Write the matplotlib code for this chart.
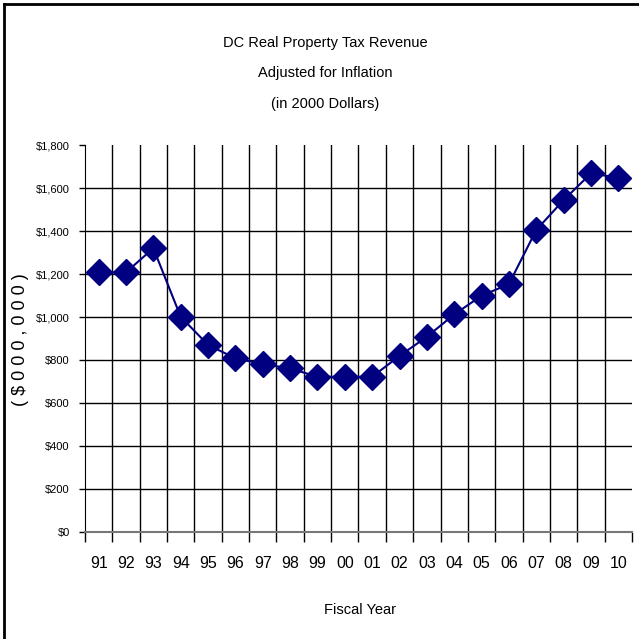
import matplotlib.pyplot as plt
from matplotlib.lines import Line2D
import numpy as np

plt.rcParams['font.family'] = ['Liberation Sans Narrow', 'Liberation Sans', 'DejaVu Sans']

years = ["91", "92", "93", "94", "95", "96", "97", "98", "99", "00",
         "01", "02", "03", "04", "05", "06", "07", "08", "09", "10"]
revenue = [1208, 1208, 1320, 1001, 870, 808, 781, 761, 722, 722,
           722, 819, 908, 1012, 1099, 1153, 1405, 1544, 1668, 1648]
yticks = [0, 200, 400, 600, 800, 1000, 1200, 1400, 1600, 1800]

fig = plt.figure(figsize=(6.39, 6.39), dpi=100)
ax = fig.add_axes([0.133, 0.1675, 0.856, 0.6055])

x = np.arange(len(years))
ax.plot(x, revenue, color="#000080", lw=1.5, marker="D", markersize=13.5,
        markerfacecolor="#000080", markeredgecolor="#000080", zorder=3)

ax.set_xlim(-0.5, len(years) - 0.5)
ax.set_ylim(0, 1800)

# horizontal grid (no line at the top)
for v in yticks[1:-1]:
    ax.axhline(v, color="black", lw=1, zorder=1)
# vertical grid at category boundaries
for b in np.arange(0.5, len(years) - 0.5, 1):
    ax.axvline(b, color="black", lw=1, zorder=1)

for s in ["top", "right"]:
    ax.spines[s].set_visible(False)
ax.spines["left"].set_color("black")
ax.spines["bottom"].set_color("#777777")
ax.spines["bottom"].set_linewidth(1.5)

ax.set_yticks(yticks)
ax.set_yticklabels(["${:,}".format(v) for v in yticks], fontsize=8)
ax.tick_params(axis="y", length=4, width=1, pad=7)

ax.set_xticks(np.arange(-0.5, len(years), 1))
ax.set_xticklabels([])
ax.tick_params(axis="x", which="major", length=7, width=1, color="black")
ax.set_xticks(x, minor=True)
ax.set_xticklabels(years, minor=True, fontsize=11.5)
ax.tick_params(axis="x", which="minor", length=0, pad=17)

tx = 0.509
fig.text(tx, 0.933, "DC Real Property Tax Revenue", ha="center", va="center", fontsize=10.5)
fig.text(tx, 0.886, "Adjusted for Inflation", ha="center", va="center", fontsize=10.5)
fig.text(tx, 0.837, "(in 2000 Dollars)", ha="center", va="center", fontsize=10.5)
fig.text(0.563, 0.045, "Fiscal Year", ha="center", va="center", fontsize=10.5)
fig.text(0.032, 0.468, "( $ 0 0 0 , 0 0 0 )", ha="center", va="center",
         rotation=90, fontsize=13)

# figure frame (top and left visible)
fig.add_artist(Line2D([0.0065, 1.0], [0.9935, 0.9935], color="black", lw=2))
fig.add_artist(Line2D([0.0065, 0.0065], [0.0, 0.9935], color="black", lw=2))

fig.savefig("out.png", dpi=100)
